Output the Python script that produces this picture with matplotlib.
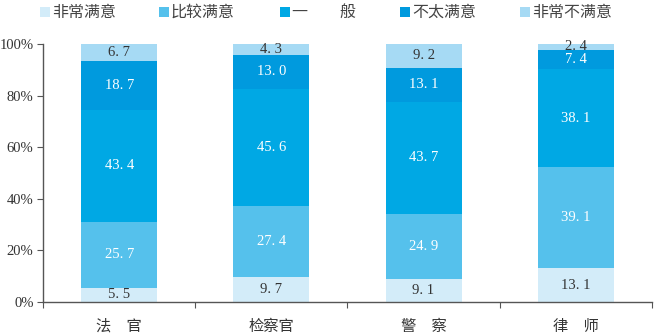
import matplotlib
matplotlib.use("Agg")
import matplotlib.pyplot as plt
from matplotlib.patches import Rectangle

plt.rcParams['font.family'] = ['Noto Sans CJK SC', 'DejaVu Sans']

categories = ["法　官", "检察官", "警　察", "律　师"]
series_names = ["非常满意", "比较满意", "一　　般", "不太满意", "非常不满意"]
very_satisfied = [5.5, 9.7, 9.1, 13.1]
fairly_satisfied = [25.7, 27.4, 24.9, 39.1]
neutral = [43.4, 45.6, 43.7, 38.1]
not_satisfied = [18.7, 13.0, 13.1, 7.4]
very_unsatisfied = [6.7, 4.3, 9.2, 2.4]
y_ticks = [0, 20, 40, 60, 80, 100]
y_tick_labels = ["0%", "20%", "40%", "60%", "80%", "100%"]

series = [very_satisfied, fairly_satisfied, neutral, not_satisfied, very_unsatisfied]
colors = ["#d3ecf9", "#55c1ec", "#00a8e4", "#009ade", "#a6daf4"]
text_colors = ["#333333", "white", "white", "white", "#333333"]

fig = plt.figure(figsize=(6.55, 3.33), dpi=100)
ax = fig.add_axes([0.066, 0.093, 0.929, 0.775])

x = list(range(len(categories)))
bottom = [0.0] * len(categories)
for vals, col, tcol in zip(series, colors, text_colors):
    ax.bar(x, vals, width=0.5, bottom=bottom, color=col, edgecolor='none')
    for xi, v, b in zip(x, vals, bottom):
        ax.text(xi, b + v / 2, f"{v:.1f}".replace(".", ". "), ha='center', va='center',
                color=tcol, fontsize=10.5, family='Liberation Serif')
    bottom = [b + v for b, v in zip(bottom, vals)]

ax.set_xlim(-0.5, 3.5)
ax.set_ylim(0, 100)
ax.set_yticks(y_ticks)
ax.set_yticklabels(y_tick_labels, family='Liberation Serif', fontsize=10.5, color='#333333')
ax.set_xticks([-0.5, 0.5, 1.5, 2.5, 3.5])
ax.set_xticklabels([])
ax.tick_params(axis='x', length=4, color='#555555')
ax.tick_params(axis='y', length=4, color='#555555', pad=3)
for xi, c in zip(x, categories):
    ax.text(xi, -6, c, ha='center', va='top', fontsize=11, color='#333333',
            clip_on=False)
for s in ['top', 'right']:
    ax.spines[s].set_visible(False)
for s in ['left', 'bottom']:
    ax.spines[s].set_color('#555555')
    ax.spines[s].set_linewidth(1.0)

# legend row across the top
W, H = 655, 333
legend_x = [40, 159, 280, 400, 520]
for lx, name, col in zip(legend_x, series_names, colors):
    fig.patches.append(Rectangle((lx / W, 1 - 17 / H), 10 / W, 10 / H,
                                 transform=fig.transFigure, facecolor=col,
                                 edgecolor='none'))
    fig.text((lx + 12) / W, 1 - 12 / H, name, ha='left', va='center',
             fontsize=11.5, color='#444444', fontweight='light')

fig.savefig("out.png", dpi=100)
